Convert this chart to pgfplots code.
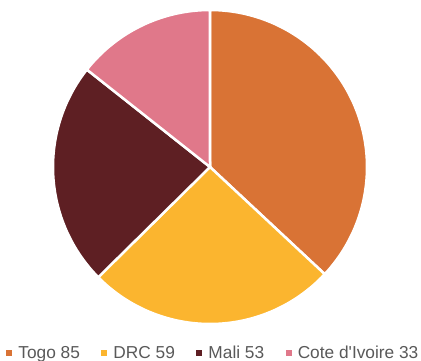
\documentclass[border=0pt]{standalone}
\usepackage{pgfplots}
\pgfplotsset{compat=1.18}
\usepackage{fontspec}
\setmainfont{Liberation Sans}
\definecolor{cTogo}{HTML}{D97335}
\definecolor{cDRC}{HTML}{FBB52F}
\definecolor{cMali}{HTML}{5E1F23}
\definecolor{cCote}{HTML}{E0788A}
\definecolor{txt}{HTML}{595959}
% data
\def\vTogo{85}
\def\vDRC{59}
\def\vMali{53}
\def\vCote{33}
\pgfmathsetmacro\tot{\vTogo+\vDRC+\vMali+\vCote}
\pgfmathsetmacro\aA{90}
\pgfmathsetmacro\aB{\aA-\vTogo/\tot*360}
\pgfmathsetmacro\aC{\aB-\vDRC/\tot*360}
\pgfmathsetmacro\aD{\aC-\vMali/\tot*360}
\pgfmathsetmacro\aE{\aD-\vCote/\tot*360}
\begin{document}
\begin{tikzpicture}
\begin{axis}[name=pie,
  scale only axis, width=314bp, height=314bp,
  xmin=-1, xmax=1, ymin=-1, ymax=1,
  hide axis, clip=false,
  samples=120,
  legend columns=4,
  legend style={draw=none, fill=none, font=\fontsize{17.3bp}{20bp}\selectfont, text=txt,
    at={(axis description cs:0.51,-0.093)}, anchor=center,
    /tikz/every odd column/.append style={column sep=4.5bp},
    /tikz/every even column/.append style={column sep=20bp},
    nodes={inner sep=1.5bp}},
  legend image code/.code={\fill[#1, draw=none] (0bp,-3bp) rectangle (6bp,3bp);},
]
\addplot[fill=cTogo, draw=white, line width=2.5bp, domain=\aB:\aA] ({cos(x)},{sin(x)}) -- (axis cs:0,0) -- cycle;
\addlegendentry{Togo 85}
\addplot[fill=cDRC, draw=white, line width=2.5bp, domain=\aC:\aB] ({cos(x)},{sin(x)}) -- (axis cs:0,0) -- cycle;
\addlegendentry{DRC 59}
\addplot[fill=cMali, draw=white, line width=2.5bp, domain=\aD:\aC] ({cos(x)},{sin(x)}) -- (axis cs:0,0) -- cycle;
\addlegendentry{Mali 53}
\addplot[fill=cCote, draw=white, line width=2.5bp, domain=\aE:\aD] ({cos(x)},{sin(x)}) -- (axis cs:0,0) -- cycle;
\addlegendentry{Cote d\textquotesingle Ivoire 33}
\end{axis}
\pgfresetboundingbox
\path ([xshift=-53bp,yshift=-37bp]pie.south west) rectangle ([xshift=54bp,yshift=10bp]pie.north east);
\end{tikzpicture}
\end{document}
